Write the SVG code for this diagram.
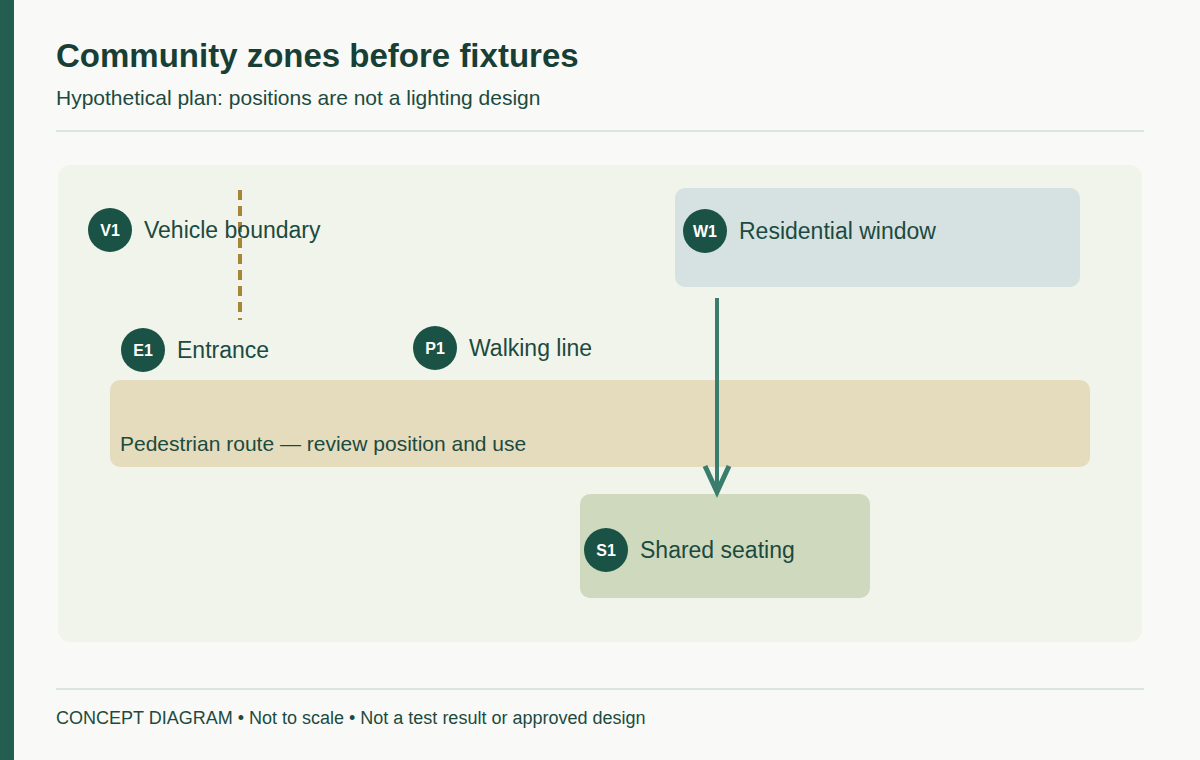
<svg xmlns="http://www.w3.org/2000/svg" width="1200" height="760" viewBox="0 0 1200 760">
<style>
.t{font-family:"Liberation Sans",Arial,sans-serif;fill:#1c4a40}
.title{font-size:33px;font-weight:bold;fill:#173f36}
.sub{font-size:21px}
.lbl{font-size:23px}
.route{font-size:21px}
.foot{font-size:18px}
.badge{fill:#1a5246}
.bt{font-family:"Liberation Sans",Arial,sans-serif;font-size:16px;font-weight:bold;fill:#ffffff;text-anchor:middle}
.rule{stroke:#d9e5e0;stroke-width:2}
</style>
<rect x="0" y="0" width="1200" height="760" fill="#f9faf7"/>
<rect x="0" y="0" width="14" height="760" fill="#235e51"/>
<text class="t title" x="56" y="67">Community zones before fixtures</text>
<text class="t sub" x="56" y="105">Hypothetical plan: positions are not a lighting design</text>
<line class="rule" x1="56" y1="131" x2="1144" y2="131"/>
<rect x="58" y="165" width="1084" height="477" rx="12" fill="#f1f4ea"/>

<g id="route">
<rect x="110" y="380" width="980" height="87" rx="10" fill="#e4dcbd"/>
<text class="t route" x="120" y="451">Pedestrian route — review position and use</text>
</g>
<g id="W1">
<rect x="675" y="188" width="405" height="99" rx="10" fill="#d6e2e1"/>
<circle class="badge" cx="705" cy="231" r="22"/>
<text class="bt" x="705" y="237">W1</text>
<text class="t lbl" x="739" y="239">Residential window</text>
</g>
<g id="S1">
<rect x="580" y="494" width="290" height="104" rx="10" fill="#cfd9bd"/>
<circle class="badge" cx="606" cy="550" r="22"/>
<text class="bt" x="606" y="556">S1</text>
<text class="t lbl" x="640" y="558">Shared seating</text>
</g>
<g id="V1">
<line x1="240" y1="190" x2="240" y2="320" stroke="#a9843a" stroke-width="4" stroke-dasharray="10 6"/>
<circle class="badge" cx="110" cy="230" r="22"/>
<text class="bt" x="110" y="236">V1</text>
<text class="t lbl" x="144" y="238">Vehicle boundary</text>
</g>
<g id="E1">
<circle class="badge" cx="143" cy="350" r="22"/>
<text class="bt" x="143" y="356">E1</text>
<text class="t lbl" x="177" y="358">Entrance</text>
</g>
<g id="P1">
<circle class="badge" cx="435" cy="348" r="22"/>
<text class="bt" x="435" y="354">P1</text>
<text class="t lbl" x="469" y="356">Walking line</text>
</g>
<g id="connectors">
<line x1="717" y1="298" x2="717" y2="490" stroke="#3a7d6c" stroke-width="4"/>
<polyline points="705,466 717,492 729,466" fill="none" stroke="#3a7d6c" stroke-width="5"/>
</g>
<line class="rule" x1="56" y1="689" x2="1144" y2="689"/>
<text class="t foot" x="56" y="724">CONCEPT DIAGRAM • Not to scale • Not a test result or approved design</text>
</svg>
